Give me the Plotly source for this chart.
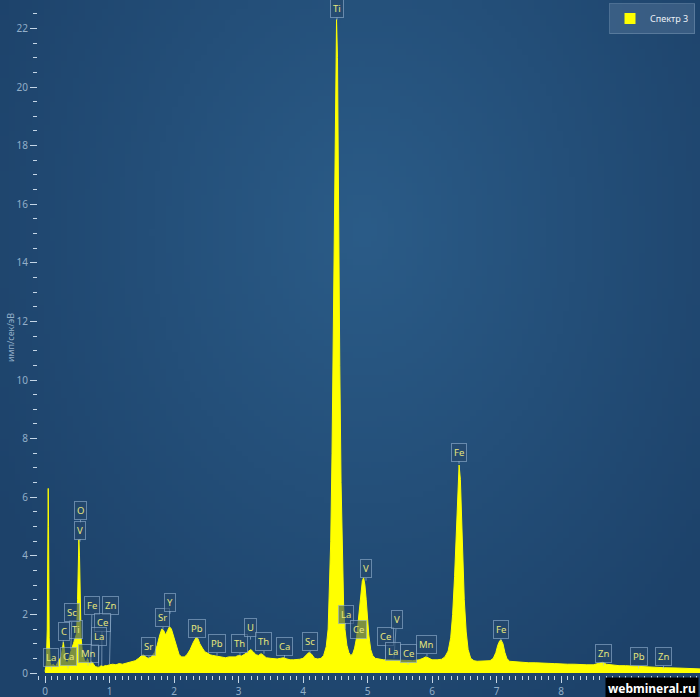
import base64, struct, zlib
import numpy as np
import plotly.graph_objects as go

# ---------------- data ----------------
energy_kev = [0.00, 0.02, 0.035, 0.045, 0.05, 0.055, 0.065, 0.08, 0.10, 0.13, 0.16, 0.19, 0.22, 0.25, 0.27,
              0.285, 0.30, 0.32, 0.35, 0.38, 0.41, 0.44, 0.47, 0.49, 0.505, 0.515, 0.525, 0.535, 0.545,
              0.56, 0.58, 0.61, 0.64, 0.66, 0.68, 0.70, 0.72, 0.75, 0.78, 0.81, 0.84, 0.87, 0.90, 0.93,
              0.96, 1.00, 1.05, 1.10, 1.15, 1.20, 1.25, 1.30, 1.35, 1.40, 1.45, 1.50, 1.53, 1.56, 1.60,
              1.65, 1.70, 1.74, 1.78, 1.81, 1.84, 1.87, 1.90, 1.93, 1.96, 2.00, 2.04, 2.08, 2.12, 2.16,
              2.20, 2.25, 2.30, 2.34, 2.37, 2.40, 2.44, 2.48, 2.52, 2.56, 2.60, 2.65, 2.70, 2.75, 2.80,
              2.85, 2.90, 2.95, 3.00, 3.05, 3.10, 3.15, 3.19, 3.23, 3.27, 3.31, 3.35, 3.39, 3.43, 3.50,
              3.55, 3.60, 3.65, 3.70, 3.75, 3.80, 3.85, 3.90, 3.95, 4.00, 4.05, 4.09, 4.13, 4.18, 4.23,
              4.28, 4.32, 4.36, 4.39, 4.41, 4.43, 4.45, 4.47, 4.49, 4.51, 4.52, 4.535, 4.55, 4.57, 4.59,
              4.61, 4.63, 4.65, 4.68, 4.71, 4.74, 4.77, 4.80, 4.83, 4.86, 4.89, 4.92, 4.94, 4.96, 4.98,
              5.00, 5.02, 5.05, 5.08, 5.12, 5.18, 5.25, 5.30, 5.40, 5.50, 5.60, 5.70, 5.80, 5.86, 5.90,
              5.94, 6.00, 6.08, 6.15, 6.20, 6.25, 6.29, 6.32, 6.35, 6.38, 6.40, 6.42, 6.44, 6.46, 6.48,
              6.50, 6.53, 6.56, 6.60, 6.65, 6.70, 6.80, 6.90, 6.95, 6.99, 7.02, 7.05, 7.07, 7.10, 7.13,
              7.16, 7.20, 7.30, 7.40, 7.50, 7.60, 7.70, 7.80, 7.90, 8.00, 8.10, 8.20, 8.30, 8.40, 8.50,
              8.60, 8.65, 8.70, 8.80, 8.90, 9.00, 9.20, 9.40, 9.60, 9.80, 10.00, 10.16]

counts = [0.05, 0.3, 1.5, 5.0, 6.3, 5.0, 1.2, 0.35, 0.25, 0.3, 0.22, 0.35, 0.45, 0.55, 0.8,
          1.05, 0.8, 0.4, 0.35, 0.6, 0.8, 1.0, 1.2, 1.35, 2.5, 4.0, 4.55, 4.0, 2.5,
          1.2, 0.7, 0.45, 0.35, 0.5, 0.35, 0.3, 0.4, 0.3, 0.22, 0.2, 0.2, 0.25, 0.22, 0.25,
          0.25, 0.28, 0.3, 0.28, 0.32, 0.3, 0.33, 0.35, 0.38, 0.42, 0.5, 0.6, 0.62, 0.55, 0.5,
          0.55, 0.7, 0.95, 1.3, 1.5, 1.45, 1.3, 1.45, 1.58, 1.5, 1.2, 0.85, 0.62, 0.55, 0.55,
          0.62, 0.8, 1.05, 1.2, 1.18, 1.0, 0.85, 0.72, 0.68, 0.62, 0.6, 0.58, 0.55, 0.55, 0.52,
          0.55, 0.55, 0.55, 0.6, 0.58, 0.65, 0.75, 0.8, 0.72, 0.62, 0.6, 0.66, 0.6, 0.52, 0.5,
          0.48, 0.48, 0.5, 0.52, 0.48, 0.45, 0.45, 0.45, 0.47, 0.5, 0.6, 0.7, 0.65, 0.5, 0.48,
          0.5, 0.6, 0.9, 1.5, 2.8, 4.5, 7.5, 12.0, 17.5, 21.5, 22.3, 21.0, 16.0, 10.5, 6.5,
          3.8, 2.3, 1.5, 0.95, 0.7, 0.6, 0.65, 0.85, 1.2, 1.8, 2.6, 3.15, 3.25, 3.0, 2.5,
          1.9, 1.3, 0.8, 0.6, 0.5, 0.47, 0.45, 0.45, 0.45, 0.44, 0.43, 0.42, 0.45, 0.5, 0.55,
          0.52, 0.45, 0.45, 0.47, 0.55, 0.75, 1.2, 2.0, 3.3, 5.0, 6.3, 7.1, 6.6, 5.3, 3.8,
          2.5, 1.4, 0.8, 0.5, 0.42, 0.4, 0.4, 0.42, 0.5, 0.7, 0.95, 1.1, 1.13, 1.0, 0.7,
          0.5, 0.4, 0.38, 0.38, 0.35, 0.35, 0.33, 0.33, 0.32, 0.3, 0.3, 0.3, 0.28, 0.28, 0.28,
          0.33, 0.37, 0.3, 0.27, 0.25, 0.25, 0.22, 0.2, 0.18, 0.17, 0.15, 0.14]

series_name = "Спектр 3"

# peak labels: element, label box centre (keV, counts)
label_text = ["La", "Ca", "Mn", "C", "Ti", "Sc", "Fe", "Zn", "Ce", "La", "O", "V",
              "Sr", "Sr", "Y", "Pb", "Pb", "Th", "U", "Th", "Ca", "Sc", "Ti", "La", "Ce", "V",
              "Ce", "V", "La", "Ce", "Mn", "Fe", "Fe", "Zn", "Pb", "Zn"]
label_box_e = [0.10, 0.357, 0.667, 0.295, 0.48, 0.419, 0.729, 1.023, 0.884, 0.837, 0.55, 0.543,
               1.612, 1.829, 1.938, 2.357, 2.667, 3.023, 3.186, 3.395, 3.713, 4.109, 4.527, 4.674,
               4.853, 4.977, 5.279, 5.450, 5.403, 5.628, 5.922, 6.419, 7.07, 8.659, 9.202, 9.589]
label_box_c = [0.53, 0.55, 0.65, 1.42, 1.47, 2.05, 2.29, 2.29, 1.74, 1.23, 5.53, 4.88,
               0.89, 1.88, 2.42, 1.52, 0.99, 0.99, 1.54, 1.06, 0.92, 1.06, 22.68, 2.01,
               1.47, 3.55, 1.26, 1.81, 0.75, 0.68, 0.96, 7.54, 1.47, 0.65, 0.55, 0.55]
# leader-line targets (None = short pointer under the box)
label_tip_e = [None, None, None, 0.28, 0.45, 0.40, 0.71, 1.00, 0.88, 0.83, None, None,
               None, None, None, None, None, None, None, None, None, None, None, 4.65,
               4.84, None, 5.28, 5.41, 5.40, None, None, None, None, None, None, None]
label_tip_c = [None, None, None, 1.0, 1.1, 0.8, 0.3, 0.3, 0.25, 0.25, None, None,
               None, None, None, None, None, None, None, None, None, None, None, 1.5,
               1.2, None, 0.5, 0.5, 0.5, None, None, None, None, None, None, None]

x_ticks = [0, 1, 2, 3, 4, 5, 6, 7, 8, 9, 10]
# labels 9 and 10 sit under the watermark box in the reference
x_tick_text = ["0", "1", "2", "3", "4", "5", "6", "7", "8", "", ""]
y_ticks = [0, 2, 4, 6, 8, 10, 12, 14, 16, 18, 20, 22]

# ---------------- background gradient (style only) ----------------
def gradient_png(w=120, h=120):
    yy, xx = np.mgrid[0:h, 0:w]
    u = xx / (w - 1)
    v = yy / (h - 1)
    d = np.sqrt(((u - 0.52) / 0.62) ** 2 + ((v - 0.33) / 0.8) ** 2)
    t = np.clip(d, 0, 1)[..., None]
    c0 = np.array([43, 92, 136], float)
    c1 = np.array([29, 66, 106], float)
    img = (c0 * (1 - t) + c1 * t).astype(np.uint8)
    raw = b"".join(b"\x00" + img[r].tobytes() for r in range(h))

    def chunk(tag, data):
        return struct.pack(">I", len(data)) + tag + data + struct.pack(">I", zlib.crc32(tag + data) & 0xffffffff)

    png = b"\x89PNG\r\n\x1a\n" + chunk(b"IHDR", struct.pack(">IIBBBBB", w, h, 8, 2, 0, 0, 0)) \
        + chunk(b"IDAT", zlib.compress(raw, 9)) + chunk(b"IEND", b"")
    return "data:image/png;base64," + base64.b64encode(png).decode()

W, H = 700, 697
ML, MB = 38, 22
PW, PH = W - ML, H - MB

FONT = "Noto Sans"
TICK_FONT = dict(family=FONT, size=10, color="#93afc9")
AXIS_COLOR = "#c5d6e6"

fig = go.Figure()
fig.add_trace(go.Scatter(
    x=energy_kev, y=counts, mode="lines", fill="tozeroy",
    line=dict(color="#ffff00", width=1), fillcolor="#ffff00",
    showlegend=False, hoverinfo="x+y"))
fig.add_trace(go.Scatter(
    x=[None], y=[None], mode="markers", name=series_name,
    marker=dict(symbol="square", size=11, color="#ffff00", line=dict(color="#ffff00", width=0))))

annotations = []
for i, txt in enumerate(label_text):
    be, bc = label_box_e[i], label_box_c[i]
    te = label_tip_e[i] if label_tip_e[i] is not None else be
    tc = label_tip_c[i] if label_tip_c[i] is not None else bc - 0.4
    annotations.append(dict(
        x=te, y=tc, ax=be, ay=bc, xref="x", yref="y", axref="x", ayref="y",
        text=txt, showarrow=True, arrowhead=0, arrowwidth=0.8,
        arrowcolor="rgba(170,195,220,0.75)",
        font=dict(family=FONT, size=9.5, color="#e6e67c"),
        bgcolor="rgba(38,72,106,0.6)", bordercolor="rgba(150,180,210,0.6)",
        borderwidth=1, borderpad=2))

annotations.append(dict(
    text="имп/сек/эВ", xref="paper", yref="paper", x=0, y=0.5, xshift=-36,
    textangle=-90, showarrow=False, font=dict(family=FONT, size=9, color="#93afc9")))
annotations.append(dict(
    text="<b>webmineral.ru</b>", xref="paper", yref="paper", x=1, y=0,
    xanchor="right", yanchor="top", yshift=-2, xshift=-1, showarrow=False,
    font=dict(family=FONT, size=12, color="#ffffff"),
    bgcolor="#000000", borderpad=2))

xspan = PW / 64.5
yspan = PH / 29.3
x0 = -7 / 64.5
y0 = -2 / 29.3

fig.update_layout(
    width=W, height=H,
    margin=dict(l=ML, r=0, t=0, b=MB),
    paper_bgcolor="#23507c", plot_bgcolor="rgba(0,0,0,0)",
    images=[dict(source=gradient_png(), xref="paper", yref="paper",
                 x=-ML / PW, y=1, sizex=W / PW, sizey=H / PH,
                 sizing="stretch", layer="below", xanchor="left", yanchor="top")],
    xaxis=dict(range=[x0, x0 + xspan], tickvals=x_ticks, ticktext=x_tick_text,
               ticks="outside", ticklen=7,
               tickwidth=1, tickcolor=AXIS_COLOR, showgrid=False, zeroline=False,
               showline=False, tickfont=TICK_FONT,
               minor=dict(dtick=0.1, tick0=0, ticks="outside", ticklen=4,
                          tickcolor=AXIS_COLOR, showgrid=False)),
    yaxis=dict(range=[y0, y0 + yspan], tickvals=y_ticks, ticks="outside", ticklen=7,
               tickwidth=1, tickcolor=AXIS_COLOR, showgrid=False, zeroline=False,
               showline=False, tickfont=TICK_FONT,
               minor=dict(dtick=0.5, tick0=0, ticks="outside", ticklen=4,
                          tickcolor=AXIS_COLOR, showgrid=False)),
    legend=dict(x=(695 - ML) / PW, y=1 - 3 / PH, xanchor="right", yanchor="top",
                bgcolor="rgba(78,112,148,0.55)", bordercolor="rgba(120,150,180,0.5)",
                borderwidth=1, font=dict(family=FONT, size=9, color="#eef3f8"),
                itemwidth=30),
    annotations=annotations,
    font=dict(family=FONT),
)

fig.write_html("out.html", config={"displayModeBar": False},
               post_script="document.body.style.margin='0';document.body.style.overflow='hidden';")
